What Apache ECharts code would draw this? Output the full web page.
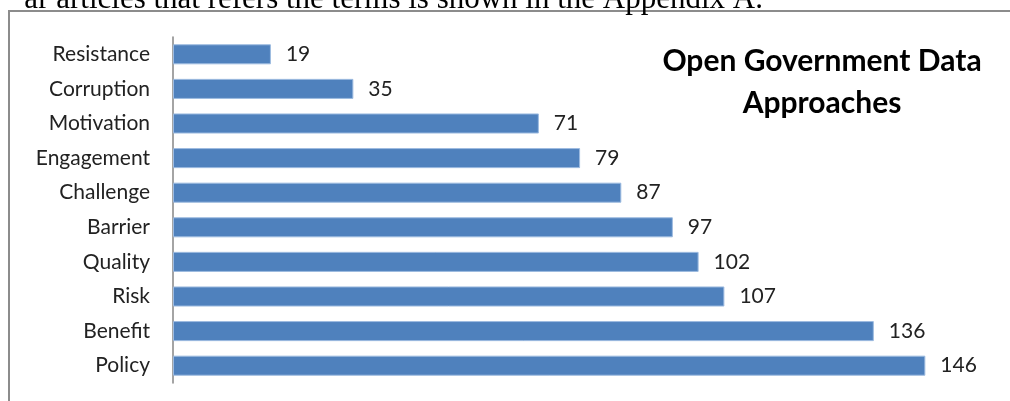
<!DOCTYPE html>
<html>
<head>
<meta charset="utf-8">
<script src="https://cdn.jsdelivr.net/npm/echarts@6/dist/echarts.min.js"></script>
<style>
  html, body { margin: 0; padding: 0; background: #fff; }
  #chart { width: 1010px; height: 401px; }
</style>
</head>
<body>
<div id="chart"></div>
<script>
// 카테고리 / 값
var categories = ['Resistance', 'Corruption', 'Motivation', 'Engagement', 'Challenge', 'Barrier', 'Quality', 'Risk', 'Benefit', 'Policy']
var counts = [19, 35, 71, 79, 87, 97, 102, 107, 136, 146]

var chart = echarts.init(document.getElementById('chart'))

var option = {
  animation: false,
  graphic: [
    {
      // 본문 텍스트 (위쪽 잘림)
      type: 'text',
      x: 763,
      y: 15,
      style: {
        text: 'ar articles that refers the terms is shown in the Appendix A.',
        font: '31px "Liberation Serif"',
        fill: '#000',
        align: 'right',
        verticalAlign: 'bottom'
      }
    },
    {
      // 차트 테두리
      type: 'rect',
      shape: { x: 9, y: 11, width: 1020, height: 420 },
      style: { fill: '#fff', stroke: '#8c8c8c', lineWidth: 2 },
      z: -1
    },
    {
      type: 'text',
      x: 822,
      y: 82,
      style: {
        text: 'Open Government Data\nApproaches',
        font: 'bold 30px Lato',
        fill: '#000',
        align: 'center',
        verticalAlign: 'middle',
        lineHeight: 42
      }
    }
  ],
  grid: {
    left: 173,
    right: 12.5,
    top: 37,
    bottom: 18
  },
  xAxis: {
    type: 'value',
    min: 0,
    max: 160,
    show: false
  },
  yAxis: {
    type: 'category',
    inverse: true,
    data: categories,
    axisLine: { lineStyle: { color: '#868686', width: 1.5 } },
    axisTick: { show: false },
    axisLabel: {
      margin: 23,
      fontFamily: 'Lato',
      fontSize: 21,
      color: '#222'
    }
  },
  series: [
    {
      type: 'bar',
      data: counts,
      barCategoryGap: '42%',
      itemStyle: {
        color: '#4f81bd',
        borderColor: '#9dbbe0',
        borderWidth: 1
      },
      label: {
        show: true,
        position: 'right',
        distance: 15,
        fontFamily: 'Lato',
        fontSize: 21,
        color: '#222'
      }
    }
  ]
}

//  차트 옵션 설정하기
chart.setOption(option)
</script>
</body>
</html>
